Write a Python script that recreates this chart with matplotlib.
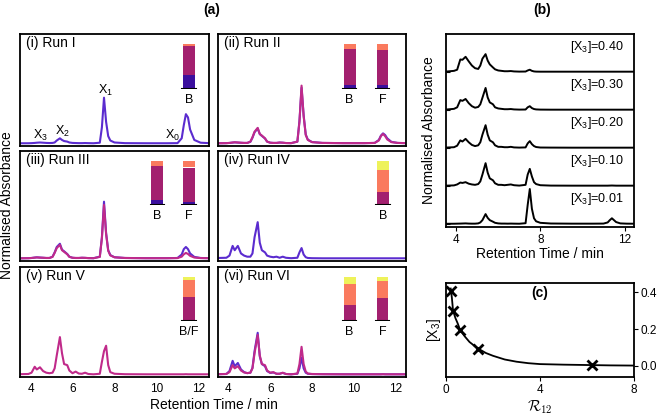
import matplotlib
matplotlib.use('Agg')
import matplotlib.pyplot as plt

plt.rcParams['font.family'] = ['Liberation Sans', 'DejaVu Sans']
plt.rcParams['mathtext.fontset'] = 'custom'
plt.rcParams['mathtext.rm'] = 'Liberation Sans'
plt.rcParams['mathtext.it'] = 'Liberation Sans:italic'
plt.rcParams['mathtext.bf'] = 'Liberation Sans:bold'

# retention times (min), shared by all traces
T = [3.5, 3.9, 4.05, 4.2, 4.3, 4.45, 4.6, 4.75, 4.9, 5.05,
     5.15, 5.25, 5.4, 5.5, 5.6, 5.75, 5.85, 6.0, 6.15, 6.3,
     6.45, 6.6, 6.75, 7.0, 7.3, 7.4, 7.5, 7.6, 7.7, 7.8,
     8.0, 8.5, 9.5, 10.5, 11.0, 11.2, 11.3, 11.4, 11.5, 11.6,
     11.8, 12.1, 12.5]

# (a) normalised absorbance traces
run1_p = [.005, .005, .006, .008, .010, .012, .010, .008, .007, .008,
          .012, .030, .050, .035, .025, .020, .012, .008, .007, .006,
          .006, .007, .006, .005, .010, .150, .420, .200, .070, .030,
          .012, .006, .005, .005, .006, .050, .170, .270, .240, .130,
          .035, .010, .006]
run2_m = [.005, .006, .008, .012, .014, .012, .010, .008, .008, .020,
          .060, .110, .145, .090, .075, .050, .020, .010, .008, .008,
          .012, .010, .007, .006, .020, .200, .530, .250, .080, .035,
          .015, .008, .006, .006, .008, .030, .070, .090, .070, .040,
          .015, .008, .006]
run2_p = [.005, .006, .008, .011, .013, .011, .009, .008, .008, .018,
          .055, .105, .140, .088, .072, .048, .020, .010, .008, .008,
          .011, .010, .007, .006, .020, .210, .510, .260, .085, .038,
          .016, .008, .006, .006, .008, .035, .075, .095, .080, .050,
          .018, .008, .006]
run3_p = [.005, .006, .008, .012, .014, .012, .010, .008, .008, .020,
          .060, .110, .140, .085, .070, .045, .020, .010, .008, .008,
          .010, .009, .007, .006, .020, .200, .530, .240, .080, .035,
          .015, .008, .006, .006, .008, .040, .090, .110, .090, .050,
          .018, .008, .006]
run3_m = [.005, .006, .008, .011, .013, .011, .010, .008, .008, .018,
          .055, .100, .130, .080, .065, .042, .018, .010, .008, .008,
          .010, .009, .007, .006, .018, .190, .500, .230, .075, .032,
          .014, .008, .006, .006, .007, .020, .042, .055, .045, .028,
          .012, .007, .006]
run4_p = [.008, .010, .030, .120, .080, .120, .050, .030, .020, .020,
          .050, .200, .340, .150, .080, .060, .030, .020, .015, .020,
          .010, .020, .010, .006, .010, .060, .100, .040, .015, .008,
          .006, .005, .005, .005, .005, .005, .005, .005, .005, .005,
          .005, .005, .005]
run5_m = [.006, .008, .020, .075, .050, .070, .035, .020, .015, .020,
          .060, .180, .350, .200, .100, .090, .040, .015, .030, .012,
          .010, .020, .008, .005, .010, .120, .220, .270, .090, .025,
          .010, .006, .005, .005, .005, .005, .005, .006, .005, .005,
          .005, .005, .005]
run6_m = [.006, .008, .025, .090, .060, .080, .040, .022, .016, .020,
          .060, .200, .370, .180, .100, .090, .040, .020, .025, .010,
          .010, .020, .008, .005, .012, .100, .260, .100, .030, .012,
          .008, .006, .005, .005, .005, .005, .005, .006, .005, .005,
          .005, .005, .005]
run6_p = [.006, .008, .035, .130, .080, .110, .050, .025, .016, .020,
          .065, .220, .390, .170, .100, .080, .035, .018, .022, .010,
          .010, .018, .008, .005, .010, .060, .160, .060, .020, .010,
          .007, .006, .005, .005, .005, .005, .005, .006, .005, .005,
          .005, .005, .005]

# (b) stacked traces for different [X3]
x3_levels = ['0.01', '0.10', '0.20', '0.30', '0.40']
b001 = [.005, .006, .008, .010, .012, .015, .010, .008, .008, .015,
        .040, .100, .260, .160, .100, .060, .030, .015, .010, .010,
        .008, .010, .008, .006, .020, .500, .920, .400, .150, .070,
        .030, .012, .008, .008, .010, .040, .100, .150, .100, .050,
        .015, .008, .006]
b010 = [.008, .015, .040, .090, .080, .100, .060, .040, .030, .050,
        .120, .300, .600, .350, .200, .150, .070, .030, .030, .020,
        .030, .040, .020, .010, .030, .300, .450, .250, .100, .050,
        .020, .010, .008, .008, .008, .008, .010, .012, .010, .008,
        .008, .008, .008]
b020 = [.010, .020, .060, .200, .170, .240, .150, .080, .050, .070,
        .150, .350, .600, .350, .200, .150, .070, .030, .030, .020,
        .020, .030, .015, .010, .015, .120, .180, .100, .050, .025,
        .012, .010, .008, .008, .008, .008, .008, .008, .008, .008,
        .008, .008, .008]
b030 = [.010, .030, .070, .260, .240, .290, .180, .100, .060, .080,
        .150, .320, .580, .330, .200, .150, .070, .040, .030, .020,
        .020, .025, .015, .010, .012, .070, .100, .050, .025, .015,
        .010, .008, .008, .008, .008, .008, .008, .008, .008, .008,
        .008, .008, .008]
b040 = [.010, .030, .060, .330, .320, .400, .280, .170, .100, .080,
        .170, .350, .470, .300, .200, .120, .070, .040, .030, .020,
        .020, .025, .015, .010, .012, .040, .060, .030, .015, .010,
        .008, .008, .008, .008, .008, .008, .008, .008, .008, .008,
        .008, .008, .008]
b_traces = [b001, b010, b020, b030, b040]

# (c) [X3] against R12
r12_curve = [0.2, 0.25, 0.3, 0.4, 0.5, 0.6, 0.8, 1.0, 1.2, 1.4,
             1.7, 2.0, 2.5, 3.0, 3.5, 4.0, 5.0, 6.0, 7.0, 8.0]
x3_curve = [0.42, 0.37, 0.30, 0.26, 0.23, 0.195, 0.16, 0.13, 0.11, 0.092,
            0.07, 0.055, 0.035, 0.023, 0.015, 0.01, 0.007, 0.005, 0.003, 0.002]
r12_pts = [0.21, 0.28, 0.6, 1.36, 6.2]
x3_pts = [0.405, 0.30, 0.195, 0.092, 0.005]

# composition bars: fractions bottom->top (blue, magenta, salmon, yellow)
comp1_B = [0.31, 0.64, 0.05, 0.0]
comp2_B = [0.09, 0.79, 0.12, 0.0]
comp2_F = [0.09, 0.78, 0.13, 0.0]
comp3_B = [0.10, 0.79, 0.11, 0.0]
comp3_F = [0.06, 0.79, 0.15, 0.0]
comp4_B = [0.0, 0.285, 0.515, 0.20]
comp5_BF = [0.0, 0.54, 0.385, 0.075]
comp6_B = [0.0, 0.36, 0.48, 0.16]
comp6_F = [0.0, 0.525, 0.375, 0.10]

PURPLE = '#5b2ccf'
MAGENTA = '#c02a8a'
bar_colors = ['#3b0f9e', '#a3206f', '#fa7a5e', '#eef25a']

W, H = 661, 420
fig = plt.figure(figsize=(6.61, 4.2), dpi=100)


def box(x0, y0, x1, y1):
    return [x0 / W, 1 - y1 / H, (x1 - x0) / W, (y1 - y0) / H]


cols = [(20, 209), (218, 406)]
rows = [(34, 146), (151, 261), (267, 377)]

panels = [
    ('(i) Run I', [(run1_p, PURPLE)], [('B', 0.894, comp1_B)]),
    ('(ii) Run II', [(run2_p, PURPLE), (run2_m, MAGENTA)],
     [('B', 0.70, comp2_B), ('F', 0.875, comp2_F)]),
    ('(iii) Run III', [(run3_p, PURPLE), (run3_m, MAGENTA)],
     [('B', 0.727, comp3_B), ('F', 0.894, comp3_F)]),
    ('(iv) Run IV', [(run4_p, PURPLE)], [('B', 0.878, comp4_B)]),
    ('(v) Run V', [(run5_m, MAGENTA)], [('B/F', 0.894, comp5_BF)]),
    ('(vi) Run VI', [(run6_p, PURPLE), (run6_m, MAGENTA)],
     [('B', 0.70, comp6_B), ('F', 0.875, comp6_F)]),
]

for k, (title, traces, bars) in enumerate(panels):
    r, c = divmod(k, 2)
    ax = fig.add_axes(box(cols[c][0], rows[r][0], cols[c][1], rows[r][1]))
    for y, col in traces:
        ax.plot(T, y, color=col, lw=1.5)
    ax.set_xlim(3.5, 12.5)
    ax.set_ylim(-0.02, 1.0)
    ax.set_yticks([])
    ax.set_xticks([4, 6, 8, 10, 12])
    ax.tick_params(axis='x', length=0, labelsize=8.5, pad=4)
    if r < 2:
        ax.set_xticklabels([])
    for s in ax.spines.values():
        s.set_linewidth(1.3)
    ax.text(0.032, 0.92, title, transform=ax.transAxes, fontsize=10,
            ha='left', va='center')
    ins = ax.inset_axes([0, 0.51, 1, 0.40])
    ins.set_xlim(0, 1)
    ins.set_ylim(0, 1)
    ins.axis('off')
    for lab, xb, fr in bars:
        bottom = 0
        for f, bc in zip(fr, bar_colors):
            if f > 0:
                ins.bar(xb, f, width=0.063, bottom=bottom, color=bc)
            bottom += f
        ins.plot([xb - 0.036, xb + 0.036], [0, 0], color='k', lw=1.5)
        ins.text(xb, -0.25, lab, ha='center', va='center', fontsize=9)
    if k == 0:
        ax.text(4.45, 0.08, 'X$_{\\mathrm{3}}$', ha='center', va='center', fontsize=9)
        ax.text(5.5, 0.11, 'X$_{\\mathrm{2}}$', ha='center', va='center', fontsize=9)
        ax.text(7.55, 0.49, 'X$_{\\mathrm{1}}$', ha='center', va='center', fontsize=9)
        ax.text(10.75, 0.08, 'X$_{\\mathrm{0}}$', ha='center', va='center', fontsize=9)

fig.text(212 / W, 1 - 10 / H, '(a)', ha='center', va='center',
         fontsize=10, fontweight='bold')
fig.text(7 / W, 1 - 205 / H, 'Normalised Absorbance', rotation=90,
         ha='center', va='center', fontsize=10)
fig.text(214 / W, 1 - 405 / H, 'Retention Time / min', ha='center',
         va='center', fontsize=10)

# (b)
axb = fig.add_axes(box(446, 34, 634, 227))
for i, (y, lev) in enumerate(zip(b_traces, x3_levels)):
    axb.plot(T, [v + i for v in y], color='k', lw=1.4)
    axb.text(11.95, i + 0.66, '[X$_{\\mathrm{3}}$]=' + lev, ha='right',
             va='center', fontsize=9)
axb.set_xlim(3.52, 12.45)
axb.set_ylim(-0.08, 5.0)
axb.set_yticks([0, 1, 2, 3, 4])
axb.set_yticklabels([])
axb.tick_params(axis='y', direction='in', length=3)
axb.set_xticks([4, 8, 12])
axb.tick_params(axis='x', direction='out', length=3, labelsize=8.5, pad=2)
axb.set_xlabel('Retention Time / min', fontsize=10, labelpad=1)
axb.set_ylabel('Normalised Absorbance', fontsize=10, labelpad=4)
for s in axb.spines.values():
    s.set_linewidth(1.3)
fig.text(542 / W, 1 - 10 / H, '(b)', ha='center', va='center',
         fontsize=10, fontweight='bold')

# (c)
axc = fig.add_axes(box(446, 283, 634, 377))
axc.plot(r12_curve, x3_curve, color='k', lw=1.3)
axc.plot(r12_pts, x3_pts, linestyle='none', marker='x', color='k',
         markersize=7, markeredgewidth=2)
axc.set_xlim(0, 8)
axc.set_ylim(-0.06, 0.45)
axc.set_xticks([0, 4, 8])
axc.set_yticks([0.0, 0.2, 0.4])
axc.set_yticklabels(['0.0', '0.2', '0.4'])
axc.yaxis.tick_right()
axc.tick_params(direction='out', length=3, labelsize=8.5, pad=2)
axc.set_ylabel('[X$_{\\mathrm{3}}$]', fontsize=10, labelpad=2)
axc.set_xlabel('$\\mathcal{R}_{12}$', fontsize=11, labelpad=2,
               math_fontfamily='cm')
axc.text(0.5, 0.89, '(c)', transform=axc.transAxes, ha='center',
         va='center', fontsize=10, fontweight='bold')
for s in axc.spines.values():
    s.set_linewidth(1.3)

fig.savefig('out.png', dpi=100)
